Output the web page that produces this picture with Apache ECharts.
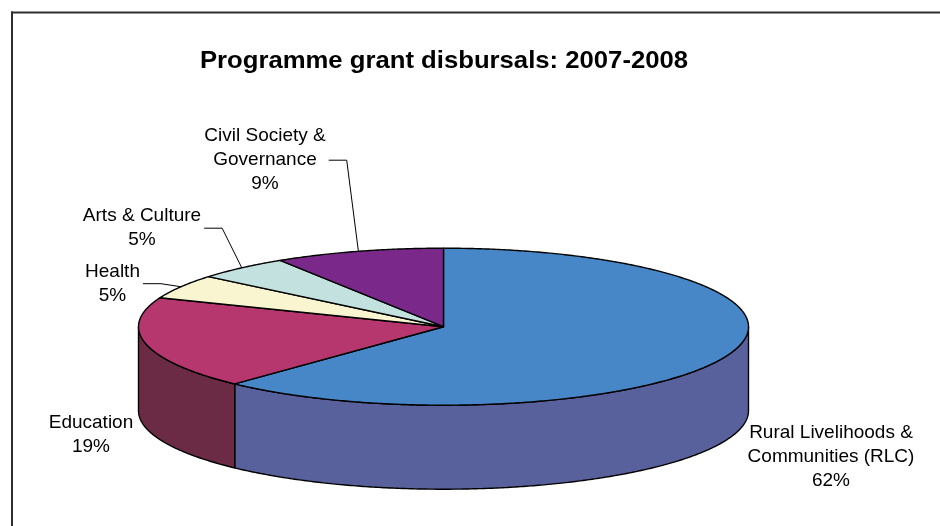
<!DOCTYPE html>
<html>
<head>
<meta charset="utf-8">
<style>
  html, body { margin: 0; padding: 0; background: #fff; }
  #chart { width: 940px; height: 526px; }
</style>
<script src="https://cdn.jsdelivr.net/npm/echarts@6/dist/echarts.min.js"></script>
</head>
<body>
<div id="chart"></div>
<script>
// Programme grant disbursals by area, 2007-2008 (percent of total)
const categories = [
  'Rural Livelihoods &\nCommunities (RLC)',
  'Education',
  'Health',
  'Arts & Culture',
  'Civil Society &\nGovernance'
];
const shares = [62, 19, 5, 5, 9];

// Slice colours: top face and the darker rim
const topColors  = ['#4787c7', '#b6376d', '#faf5d1', '#c3e1de', '#7a298b'];
const sideColors = ['#59619c', '#6b2b45', '#d8d2a8', '#a2c0bd', '#5a1f68'];

// Label placement relative to the pie centre, and whether a leader line is drawn
const labelOffsets = [[387.5, 130.5], [-352.5, 108.5], [-331, -43], [-301.5, -98.5], [-178.5, -166.5]];
const hasLeader = [false, false, true, true, true];

// Tilted pie geometry (pixels)
const pie = { cx: 443.5, cy: 326.7, rx: 305, ry: 78.5, depth: 84 };
const FONT = '"Liberation Sans", Arial, Helvetica, sans-serif';
const LABEL_SIZE = 19;
const LINE_H = 24;

const measureCtx = document.createElement('canvas').getContext('2d');
measureCtx.font = LABEL_SIZE + 'px ' + FONT;
function blockWidth(text) {
  return Math.max.apply(null, text.split('\n').map(s => measureCtx.measureText(s).width));
}

// Point on the tilted rim; angle measured clockwise from 12 o'clock
function rim(a, drop) {
  return [pie.cx + pie.rx * Math.sin(a), pie.cy - pie.ry * Math.cos(a) + (drop || 0)];
}
function arc(a0, a1, drop) {
  const n = Math.max(2, Math.ceil(Math.abs(a1 - a0) / (Math.PI / 360)) + 1);
  const pts = [];
  for (let k = 0; k < n; k++) pts.push(rim(a0 + (a1 - a0) * k / (n - 1), drop));
  return pts;
}

const total = shares.reduce((s, v) => s + v, 0);

function renderItem(params, api) {
  const i = params.dataIndex;
  let before = 0;
  for (let j = 0; j < i; j++) before += shares[j];
  const value = api.value(0);
  const a0 = before / total * Math.PI * 2;
  const a1 = (before + value) / total * Math.PI * 2;
  const children = [];
  const edge = { stroke: '#000', lineWidth: 1.4, lineJoin: 'round' };

  // rim wall, only on the near half of the disc
  const s0 = Math.max(a0, Math.PI / 2);
  const s1 = Math.min(a1, Math.PI * 3 / 2);
  if (s1 > s0) {
    const pts = arc(s0, s1, 0).concat(arc(s1, s0, pie.depth));
    children.push({
      type: 'polygon',
      shape: { points: pts },
      style: Object.assign({ fill: sideColors[i] }, edge)
    });
  }

  // top face
  children.push({
    type: 'polygon',
    shape: { points: [[pie.cx, pie.cy]].concat(arc(a0, a1, 0)) },
    style: Object.assign({ fill: topColors[i] }, edge)
  });

  // label
  const pct = Math.round(value / total * 100) + '%';
  const text = categories[i] + '\n' + pct;
  const lx = pie.cx + labelOffsets[i][0];
  const ly = pie.cy + labelOffsets[i][1];
  children.push({
    type: 'text',
    z2: 10,
    style: {
      text: text, x: lx, y: ly,
      align: 'center', verticalAlign: 'middle',
      fontSize: LABEL_SIZE, fontFamily: FONT, lineHeight: LINE_H,
      fill: '#000'
    }
  });

  if (hasLeader[i]) {
    const mid = (a0 + a1) / 2;
    const startX = lx + blockWidth(text) / 2 + 3;
    children.push({
      type: 'polyline',
      z2: 10,
      shape: { points: [[startX, ly], [startX + 18, ly], rim(mid, 0)] },
      style: { stroke: '#000', lineWidth: 1, fill: null }
    });
  }

  return { type: 'group', children: children };
}

const chart = echarts.init(document.getElementById('chart'), null, { renderer: 'canvas' });
chart.setOption({
  backgroundColor: '#fff',
  animation: false,
  graphic: [
    { type: 'line', shape: { x1: 11, y1: 12.6, x2: 940, y2: 12.6 }, style: { stroke: '#2e2e2e', lineWidth: 2 } },
    { type: 'line', shape: { x1: 12, y1: 11.6, x2: 12, y2: 526 }, style: { stroke: '#2e2e2e', lineWidth: 2 } },
    {
      // slightly wide bold title
      type: 'text', x: 444, y: 61, scaleX: 1.07,
      style: {
        text: 'Programme grant disbursals: 2007-2008',
        align: 'center', verticalAlign: 'middle',
        fontSize: 24, fontWeight: 'bold', fontFamily: FONT, fill: '#000'
      }
    }
  ],
  series: [{
    type: 'custom',
    coordinateSystem: 'none',
    renderItem: renderItem,
    data: shares.map((v, i) => ({ name: categories[i], value: [v] }))
  }]
});
</script>
</body>
</html>
